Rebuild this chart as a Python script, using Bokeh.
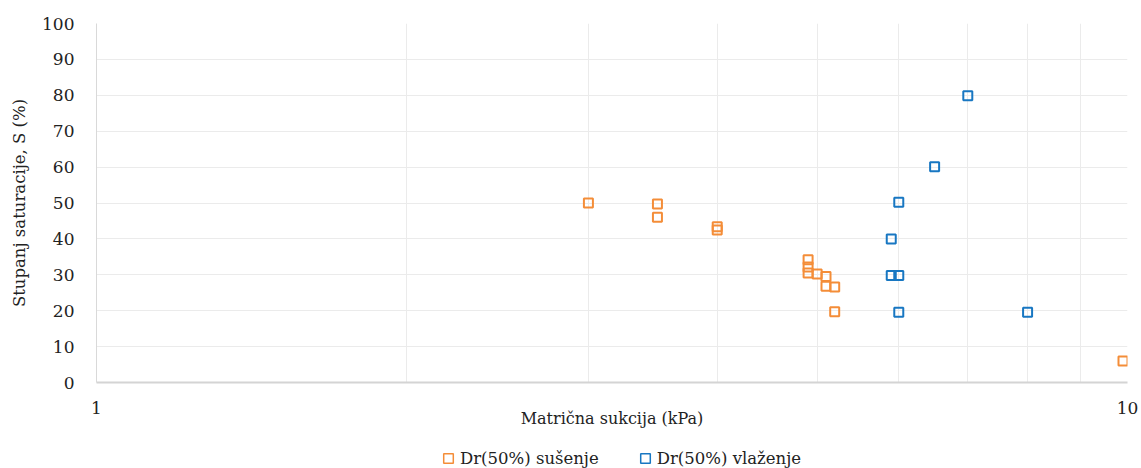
from bokeh.plotting import figure
from bokeh.layouts import column
from bokeh.models import FixedTicker, BasicTickFormatter, Legend, LegendItem
from bokeh.embed import file_html
from bokeh.resources import INLINE

# ---- data ----
dry_suction = [3.0, 3.5, 3.5, 4.0, 4.0, 4.9, 4.9, 4.9, 5.0, 5.1, 5.1, 5.2, 5.2, 9.9]
dry_saturation = [50.0, 49.7, 46.0, 43.4, 42.5, 34.2, 32.2, 30.5, 30.2, 29.5, 26.8, 26.6, 19.7, 6.0]

wet_suction = [7.0, 6.5, 6.0, 5.9, 5.9, 6.0, 6.0, 8.0]
wet_saturation = [79.9, 60.1, 50.2, 40.0, 29.8, 29.8, 19.6, 19.6]

x_major_ticks = [1, 10]
x_minor_ticks = [2, 3, 4, 5, 6, 7, 8, 9]
y_ticks = [0, 10, 20, 30, 40, 50, 60, 70, 80, 90, 100]

series_names = ["Dr(50%) sušenje", "Dr(50%) vlaženje"]
x_title = "Matrična sukcija (kPa)"
y_title = "Stupanj saturacije, S (%)"

ORANGE = "#F48D38"
BLUE = "#1877C2"
FONT = "DejaVu Serif"
TXT = "#222222"
GRID = "#EBEBEB"

W = 1141
p = figure(width=W, height=430, x_axis_type="log", x_range=(1, 10), y_range=(0, 100),
           output_backend="svg", toolbar_location=None,
           min_border_left=96, min_border_right=14, min_border_top=23, min_border_bottom=47)
p.outline_line_color = None
p.background_fill_color = "white"
p.border_fill_color = "white"

# axes
p.xaxis.ticker = FixedTicker(ticks=x_major_ticks, minor_ticks=x_minor_ticks)
p.xaxis.formatter = BasicTickFormatter()
p.yaxis.ticker = FixedTicker(ticks=y_ticks)
for ax in (p.xaxis, p.yaxis):
    ax.major_tick_line_color = None
    ax.minor_tick_line_color = None
    ax.major_label_text_font = FONT
    ax.major_label_text_font_size = "17px"
    ax.major_label_text_color = TXT
    ax.axis_label_text_font = FONT
    ax.axis_label_text_font_style = "normal"
    ax.axis_label_text_color = TXT
p.xaxis.axis_line_color = "#D4D4D4"
p.xaxis.axis_line_width = 2
p.yaxis.axis_line_color = "#D9D9D9"
p.yaxis.axis_line_width = 1
p.xaxis.major_label_standoff = 13
p.yaxis.major_label_standoff = 16

p.yaxis.axis_label = y_title
p.yaxis.axis_label_text_font_size = "16.5px"
p.yaxis.axis_label_standoff = 10

p.xaxis.axis_label = x_title
p.xaxis.axis_label_text_font_size = "16px"
p.xaxis.axis_label_standoff = -8

# grid
p.xgrid.grid_line_color = None
p.xgrid.minor_grid_line_color = GRID
p.ygrid.grid_line_color = GRID

# series
p.scatter(dry_suction, dry_saturation, marker="square", size=9,
          fill_color=None, line_color=ORANGE, line_width=2)
p.scatter(wet_suction, wet_saturation, marker="square", size=9,
          fill_color=None, line_color=BLUE, line_width=2)

# legend strip underneath (frame aligned with the main plot's frame)
lg = figure(width=W, height=38, x_axis_type="log", x_range=(1, 10), y_range=(0, 100),
            output_backend="svg", toolbar_location=None, min_border=0)
lg.axis.visible = False
lg.grid.grid_line_color = None
lg.outline_line_color = None
# zero-size proxies: only their legend swatches are visible
k1 = lg.scatter(dry_suction[:1], dry_saturation[:1], marker="square", size=0,
                fill_color=None, line_color=ORANGE, line_width=1.5)
k2 = lg.scatter(wet_suction[:1], wet_saturation[:1], marker="square", size=0,
                fill_color=None, line_color=BLUE, line_width=1.5)
legend = Legend(items=[LegendItem(label=series_names[0], renderers=[k1]),
                       LegendItem(label=series_names[1], renderers=[k2])],
                orientation="horizontal", location=(340, -2),
                glyph_width=24, glyph_height=24, label_standoff=-5, spacing=34,
                padding=0, margin=0, border_line_color=None, background_fill_alpha=0,
                label_text_font=FONT, label_text_font_size="16.5px", label_text_color=TXT)
lg.add_layout(legend, "center")

layout = column(p, lg, spacing=0)
open("out.html", "w").write(file_html(layout, INLINE))
